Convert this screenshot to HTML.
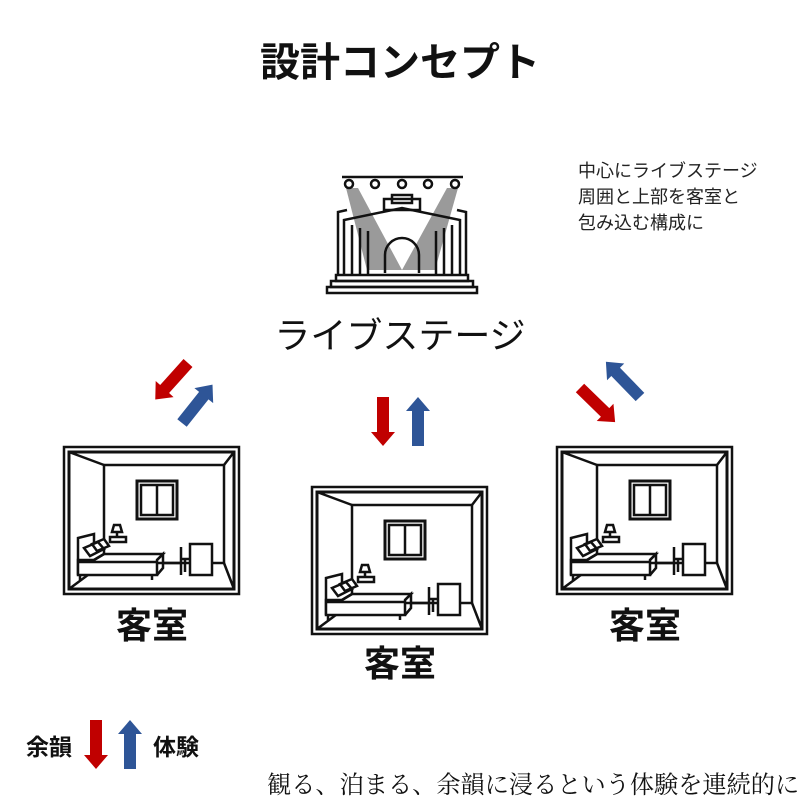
<!DOCTYPE html>
<html><head><meta charset="utf-8"><style>
body{margin:0;background:#fff;}
svg{display:block}
</style></head><body>
<svg width="800" height="800" viewBox="0 0 800 800" xmlns="http://www.w3.org/2000/svg">
<defs>
<path id="arr" d="M-6,0 H6 V35 H12 L0,49 L-12,35 H-6 Z"/>
<g id="room" fill="none" stroke="#111" stroke-width="2.5">
  <rect x="0" y="0" width="175" height="147"/>
  <rect x="5" y="5" width="165" height="137" stroke-width="3"/>
  <rect x="40" y="18" width="120" height="98"/>
  <line x1="5" y1="5" x2="40" y2="18"/>
  <line x1="170" y1="5" x2="160" y2="18"/>
  <line x1="170" y1="142" x2="160" y2="116"/>
  <line x1="5" y1="142" x2="40" y2="116"/>
  <rect x="73" y="34" width="40" height="38" stroke-width="3"/>
  <rect x="77" y="38" width="32" height="30"/>
  <line x1="93" y1="38" x2="93" y2="68"/>
  <!-- bed -->
  <path d="M14,128 V91 L30,87 V100" fill="#fff"/>
  <path d="M14,128 H93 V113 L99,107 H40 L30,113 H14 Z" fill="#fff"/>
  <path d="M14,115 H93 M40,107 L30,113 M93,113 L99,107 V121 L93,128" />
  <path d="M20,101 l14,-6 l6,7 l-14,7 z M28,97 l12,-5 l5,7 l-12,5 z" fill="#fff"/>
  <line x1="16" y1="128" x2="16" y2="133"/><line x1="88" y1="128" x2="88" y2="133"/>
  <path d="M48,85 h10 l-2,-7 h-6 z" fill="#fff"/><line x1="53" y1="85" x2="53" y2="90"/>
  <rect x="46" y="90" width="16" height="5" fill="#fff"/>
  <!-- desk -->
  <rect x="126" y="97" width="22" height="31" fill="#fff"/>
  <path d="M117,100 V128 M117,112 H126 M121,112 V125"/>
  <line x1="99" y1="116" x2="117" y2="116"/>
</g>
</defs>

<text x="400" y="76" text-anchor="middle" font-family="'Liberation Sans','Noto Sans CJK JP',sans-serif" font-size="40" font-weight="bold" fill="#111">設計コンセプト</text>

<g font-family="'Liberation Sans','Noto Sans CJK JP',sans-serif" font-size="18" fill="#222">
<text x="578" y="177">中心にライブステージ</text>
<text x="578" y="203">周囲と上部を客室と</text>
<text x="578" y="229">包み込む構成に</text>
</g>

<!-- stage icon -->
<g>
  <polygon points="346,188 358,188 402,270 367,270" fill="#9a9a9a"/>
  <polygon points="447,188 458,188 435,270 402,270" fill="#9a9a9a"/>
  <g fill="none" stroke="#111" stroke-width="2.5">
    <line x1="342" y1="177" x2="463" y2="177"/>
    <circle cx="349" cy="184" r="4"/><circle cx="375" cy="184" r="4"/><circle cx="402" cy="184" r="4"/><circle cx="428" cy="184" r="4"/><circle cx="455" cy="184" r="4"/>
    <rect x="384" y="199" width="36" height="11"/>
    <rect x="392" y="195" width="20" height="8"/>
    <path d="M338,276 V212 L347,210 M466,276 V212 L457,210"/>
    <path d="M344,276 V220 L402,208 L460,220 V276"/>
    <path d="M352,276 V225 M360,276 V228 M368,276 V231 M436,276 V231 M444,276 V228 M452,276 V225"/>
    <path d="M385,273 V255 A17,17 0 0 1 419,255 V273"/>
    <rect x="336" y="275" width="132" height="6"/>
    <rect x="331" y="281" width="142" height="6"/>
    <rect x="327" y="287" width="150" height="6"/>
  </g>
</g>

<text x="400" y="348" text-anchor="middle" font-family="'Liberation Sans','Noto Sans CJK JP',sans-serif" font-size="36" fill="#111">ライブステージ</text>

<!-- arrows -->
<g fill="#c00000">
  <use href="#arr" transform="translate(188,363) rotate(41.9)"/>
  <use href="#arr" transform="translate(383,397)"/>
  <use href="#arr" transform="translate(580,388) rotate(-45.8)"/>
  <use href="#arr" transform="translate(96,720)"/>
</g>
<g fill="#2e5597">
  <use href="#arr" transform="translate(182,423) rotate(-141.5)"/>
  <use href="#arr" transform="translate(418,446) rotate(180)"/>
  <use href="#arr" transform="translate(640,397) rotate(135.9)"/>
  <use href="#arr" transform="translate(130,769) rotate(180)"/>
</g>

<use href="#room" transform="translate(64,447)"/>
<use href="#room" transform="translate(312,487)"/>
<use href="#room" transform="translate(557,447)"/>

<g font-family="'Liberation Sans','Noto Sans CJK JP',sans-serif" font-size="36" font-weight="bold" fill="#111" text-anchor="middle">
<text x="152" y="638">客室</text>
<text x="400" y="676">客室</text>
<text x="645" y="638">客室</text>
</g>

<g font-family="'Liberation Sans','Noto Sans CJK JP',sans-serif" font-size="23" font-weight="bold" fill="#111">
<text x="26" y="755">余韻</text>
<text x="153" y="755">体験</text>
</g>
<text x="267" y="793" font-family="'Liberation Serif','Noto Serif CJK SC',serif" font-size="24.2" fill="#111">観る、泊まる、余韻に浸るという体験を連続的に</text>
</svg>
</body></html>
